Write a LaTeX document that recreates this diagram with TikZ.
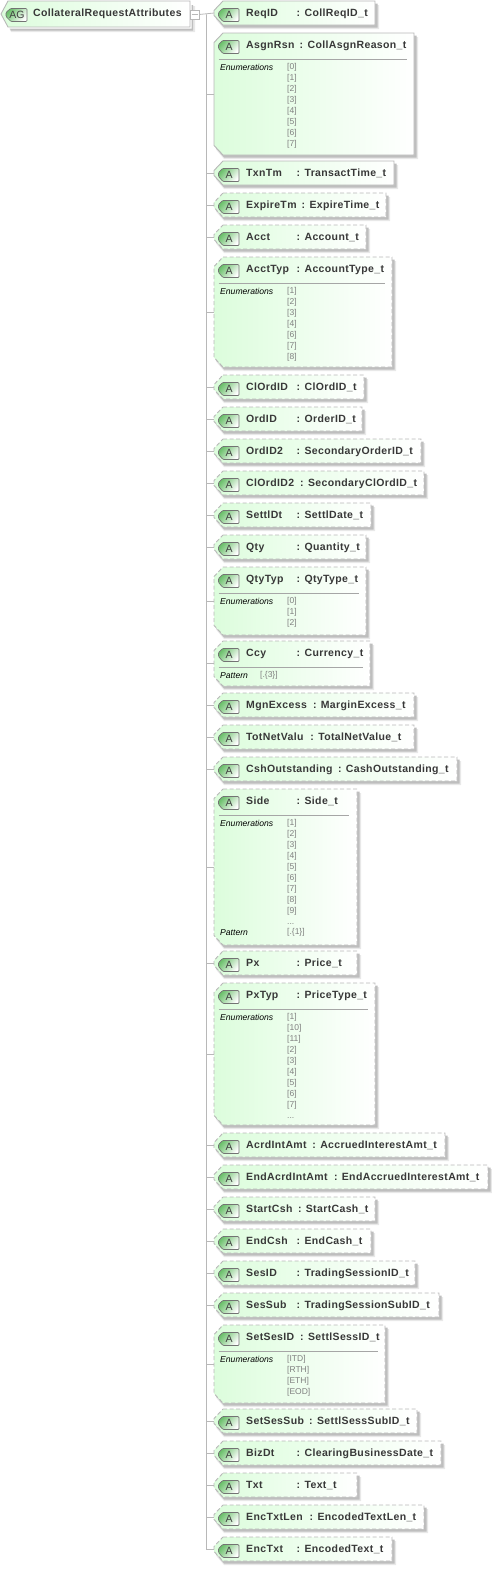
\documentclass[tikz,border=0pt]{standalone}
\usepackage{fontspec}
\setmainfont{Liberation Sans}
\newfontfamily\titlefnt[LetterSpace=3.5]{Liberation Sans}
\definecolor{bordergray}{HTML}{B8B8B8}
\definecolor{shadowgray}{HTML}{BEBEBE}
\definecolor{shadowlight}{HTML}{E8E8E8}
\definecolor{boxgreen}{HTML}{DCFDDC}
\definecolor{boxmid}{HTML}{F0FEF0}
\definecolor{icongreen}{HTML}{6CC06C}
\definecolor{titletext}{HTML}{383838}
\definecolor{valtext}{HTML}{808080}
\tikzset{
  titlenode/.style={inner sep=0pt,anchor=base west,text=titletext,font=\titlefnt\bfseries\fontsize{10.5}{11}\selectfont},
  labelnode/.style={inner sep=0pt,anchor=base west,text=black,font=\itshape\fontsize{8.6}{11}\selectfont},
  valnode/.style={inner sep=0pt,anchor=north west,align=left,text=valtext,font=\fontsize{8.5}{11}\selectfont},
  iconnode/.style={inner sep=0pt,text=black!75,font=\fontsize{10.5}{11}\selectfont},
  holder/.style={inner sep=0pt,outer sep=0pt,rectangle},
  conn/.style={draw=bordergray,line width=0.8pt},
  boxfill/.style={left color=boxgreen,middle color=boxmid,right color=white},
  boxline/.style={draw=bordergray,line width=0.9pt},
  dashline/.style={draw=bordergray,line width=0.9pt,dash pattern=on 4pt off 2.5pt},
  sepline/.style={draw=black!35,line width=0.6pt},
  iconpath/.style={draw=black!55,line width=0.7pt,left color=icongreen,right color=white,shading angle=50},
}
% id, top, bottom, right, line style, name, colon x, type
\newcommand{\fieldbox}[8]{%
  \pgfmathsetmacro{\yt}{#2}\pgfmathsetmacro{\yb}{#3}\pgfmathsetmacro{\xr}{#4}%
  \pgfmathsetmacro{\ym}{(\yt+\yb)/2}%
  \pgfmathsetmacro{\cuty}{min(9.5,(\yb-\yt)/2)}%
  \pgfmathsetmacro{\wid}{\xr-214}%
  \pgfmathsetmacro{\hei}{\yb-\yt}%
  \pgfmathsetmacro{\xc}{(\xr+214)/2}%
  \fill[shadowlight] (224,\yt+4) -- (\xr+4,\yt+4) -- (\xr+4,\yb+4) -- (224,\yb+4) -- (216,\yb+4-\cuty) -- (216,\yt+4+\cuty) -- cycle;
  \fill[shadowgray] (224,\yt+2.5) -- (\xr+2.5,\yt+2.5) -- (\xr+2.5,\yb+2.5) -- (224,\yb+2.5) -- (216,\yb+2.5-\cuty) -- (216,\yt+2.5+\cuty) -- cycle;
  \path[boxfill] (223,\yt) -- (\xr,\yt) -- (\xr,\yb) -- (223,\yb) -- (214,\yb-\cuty) -- (214,\yt+\cuty) -- cycle;
  \path[#5] (223,\yt) -- (\xr,\yt) -- (\xr,\yb) -- (223,\yb) -- (214,\yb-\cuty) -- (214,\yt+\cuty) -- cycle;
  \node[holder,minimum width=\wid pt,minimum height=\hei pt] (#1) at (\xc,\ym) {};
  \path[iconpath,rounded corners=1pt] (222.5,\yt+7.5) -- (239,\yt+7.5) -- (239,\yt+20.5) -- (223,\yt+20.5) -- (218.5,\yt+15.5) -- (218.5,\yt+11.5) -- cycle;
  \node[iconnode] (#1-icon) at (229,\yt+14.3) {A};
  \node[titlenode] (#1-name) at (246,\yt+15.7) {#6};
  \node[titlenode] (#1-type) at (#7,\yt+15.7) {: #8};
}
\newcommand{\link}[1]{\draw[conn] (trunktop) |- (#1.west);}
\begin{document}
\begin{tikzpicture}[x=1pt,y=-1pt]
\useasboundingbox (0,0) rectangle (492,1569);
% root
\fill[shadowlight] (11,6) -- (195,6) -- (195,32) -- (11,32) -- (5,19) -- cycle;
\fill[shadowgray] (11,5) -- (193,5) -- (193,30.5) -- (11,30.5) -- (4,18) -- cycle;
\fill[white] (9,3) -- (191.5,3) -- (191.5,28.5) -- (9,28.5) -- (3,15) -- cycle;
\path[boxfill] (8,1) -- (190,1) -- (190,27) -- (8,27) -- (1,14) -- cycle;
\path[boxline] (8,1) -- (190,1) -- (190,27) -- (8,27) -- (1,14) -- cycle;
\node[holder,minimum width=189pt,minimum height=26pt] (root) at (95.5,14) {};
\path[iconpath,rounded corners=1pt] (10.5,8.5) -- (27,8.5) -- (27,21.5) -- (11,21.5) -- (6,16.5) -- (6,12.5) -- cycle;
\node[iconnode] (root-icon) at (17,15.3) {AG};
\node[titlenode] (root-name) at (33,16.6) {CollateralRequestAttributes};
\node[holder,draw=bordergray,fill=white,line width=0.8pt,minimum width=9pt,minimum height=9pt] (rootminus) at (194.5,14.5) {};
\draw[bordergray,line width=0.8pt] (rootminus.center) ++(-3,0) -- ++(6,0);
\coordinate (trunktop) at (206,14.5);

\fieldbox{ReqID}{1}{25}{375}{boxline}{ReqID}{296.5}{CollReqID\_t}
\fieldbox{AsgnRsn}{33}{155}{414}{boxline}{AsgnRsn}{299.5}{CollAsgnReason\_t}
\draw[sepline] (218.5,59.5) -- (407,59.5);
\node[labelnode] (AsgnRsn-label) at (220,70) {Enumerations};
\node[valnode] (AsgnRsn-vals) at (287,63) {[0]\\{[1]}\\{[2]}\\{[3]}\\{[4]}\\{[5]}\\{[6]}\\{[7]}};
\fieldbox{TxnTm}{161}{185}{394}{boxline}{TxnTm}{296.5}{TransactTime\_t}
\fieldbox{ExpireTm}{193}{217}{386}{dashline}{ExpireTm}{301.5}{ExpireTime\_t}
\fieldbox{Acct}{225}{249}{366}{dashline}{Acct}{296.5}{Account\_t}
\fieldbox{AcctTyp}{257}{367}{392}{dashline}{AcctTyp}{296.5}{AccountType\_t}
\draw[sepline] (218.5,283.5) -- (385,283.5);
\node[labelnode] (AcctTyp-label) at (220,294) {Enumerations};
\node[valnode] (AcctTyp-vals) at (287,287) {[1]\\{[2]}\\{[3]}\\{[4]}\\{[6]}\\{[7]}\\{[8]}};
\fieldbox{ClOrdID}{375}{399}{364}{dashline}{ClOrdID}{296.5}{ClOrdID\_t}
\fieldbox{OrdID}{407}{431}{362}{dashline}{OrdID}{296.5}{OrderID\_t}
\fieldbox{OrdID2}{439}{463}{421}{dashline}{OrdID2}{296.5}{SecondaryOrderID\_t}
\fieldbox{ClOrdID2}{471}{495}{424}{dashline}{ClOrdID2}{300}{SecondaryClOrdID\_t}
\fieldbox{SettlDt}{503}{527}{371}{dashline}{SettlDt}{296.5}{SettlDate\_t}
\fieldbox{Qty}{535}{559}{366}{dashline}{Qty}{296.5}{Quantity\_t}
\fieldbox{QtyTyp}{567}{635}{366}{dashline}{QtyTyp}{296.5}{QtyType\_t}
\draw[sepline] (218.5,593.5) -- (359,593.5);
\node[labelnode] (QtyTyp-label) at (220,604) {Enumerations};
\node[valnode] (QtyTyp-vals) at (287,597) {[0]\\{[1]}\\{[2]}};
\fieldbox{Ccy}{641}{686}{370}{dashline}{Ccy}{296.5}{Currency\_t}
\draw[sepline] (218.5,667) -- (363,667);
\node[labelnode] (Ccy-label) at (220,678) {Pattern};
\node[valnode] (Ccy-vals) at (260,671) {[.\{3\}]};
\fieldbox{MgnExcess}{693}{717}{414}{dashline}{MgnExcess}{312.8}{MarginExcess\_t}
\fieldbox{TotNetValu}{725}{749}{414}{dashline}{TotNetValu}{310.2}{TotalNetValue\_t}
\fieldbox{CshOutstanding}{757}{781}{457}{dashline}{CshOutstanding}{337.8}{CashOutstanding\_t}
\fieldbox{Side}{789}{945}{357}{dashline}{Side}{296.5}{Side\_t}
\draw[sepline] (218.5,815.3) -- (349,815.3);
\node[labelnode] (Side-label) at (220,826) {Enumerations};
\node[valnode] (Side-vals) at (287,819) {[1]\\{[2]}\\{[3]}\\{[4]}\\{[5]}\\{[6]}\\{[7]}\\{[8]}\\{[9]}\\{...}};
\node[labelnode] (Side-plabel) at (220,935) {Pattern};
\node[valnode] (Side-pvals) at (287,928) {[.\{1\}]};
\fieldbox{Px}{951}{975}{357}{dashline}{Px}{296.5}{Price\_t}
\fieldbox{PxTyp}{983}{1125}{375}{dashline}{PxTyp}{296.5}{PriceType\_t}
\draw[sepline] (218.5,1009) -- (368,1009);
\node[labelnode] (PxTyp-label) at (220,1020) {Enumerations};
\node[valnode] (PxTyp-vals) at (287,1013) {[1]\\{[10]}\\{[11]}\\{[2]}\\{[3]}\\{[4]}\\{[5]}\\{[6]}\\{[7]}\\{...}};
\fieldbox{AcrdIntAmt}{1133}{1157}{445}{dashline}{AcrdIntAmt}{312.2}{AccruedInterestAmt\_t}
\fieldbox{EndAcrdIntAmt}{1165}{1189}{488}{dashline}{EndAcrdIntAmt}{333.8}{EndAccruedInterestAmt\_t}
\fieldbox{StartCsh}{1197}{1221}{375}{dashline}{StartCsh}{297.8}{StartCash\_t}
\fieldbox{EndCsh}{1229}{1253}{371}{dashline}{EndCsh}{296.5}{EndCash\_t}
\fieldbox{SesID}{1261}{1285}{415}{dashline}{SesID}{296.5}{TradingSessionID\_t}
\fieldbox{SesSub}{1293}{1317}{439}{dashline}{SesSub}{296.5}{TradingSessionSubID\_t}
\fieldbox{SetSesID}{1325}{1403}{385}{dashline}{SetSesID}{300}{SettlSessID\_t}
\draw[sepline] (218.5,1351.5) -- (378,1351.5);
\node[labelnode] (SetSesID-label) at (220,1362) {Enumerations};
\node[valnode] (SetSesID-vals) at (287,1355) {[ITD]\\{[RTH]}\\{[ETH]}\\{[EOD]}};
\fieldbox{SetSesSub}{1409}{1433}{417}{dashline}{SetSesSub}{309}{SettlSessSubID\_t}
\fieldbox{BizDt}{1441}{1465}{441}{dashline}{BizDt}{296.5}{ClearingBusinessDate\_t}
\fieldbox{Txt}{1473}{1497}{357}{dashline}{Txt}{296.5}{Text\_t}
\fieldbox{EncTxtLen}{1505}{1529}{424}{dashline}{EncTxtLen}{309.5}{EncodedTextLen\_t}
\fieldbox{EncTxt}{1537}{1561}{392}{dashline}{EncTxt}{296.5}{EncodedText\_t}

\draw[conn] (rootminus.east) -- (ReqID.west);
\foreach \f in {AsgnRsn,TxnTm,ExpireTm,Acct,AcctTyp,ClOrdID,OrdID,OrdID2,ClOrdID2,SettlDt,Qty,QtyTyp,Ccy,MgnExcess,TotNetValu,CshOutstanding,Side,Px,PxTyp,AcrdIntAmt,EndAcrdIntAmt,StartCsh,EndCsh,SesID,SesSub,SetSesID,SetSesSub,BizDt,Txt,EncTxtLen,EncTxt}{\link{\f}}
\end{tikzpicture}
\end{document}
